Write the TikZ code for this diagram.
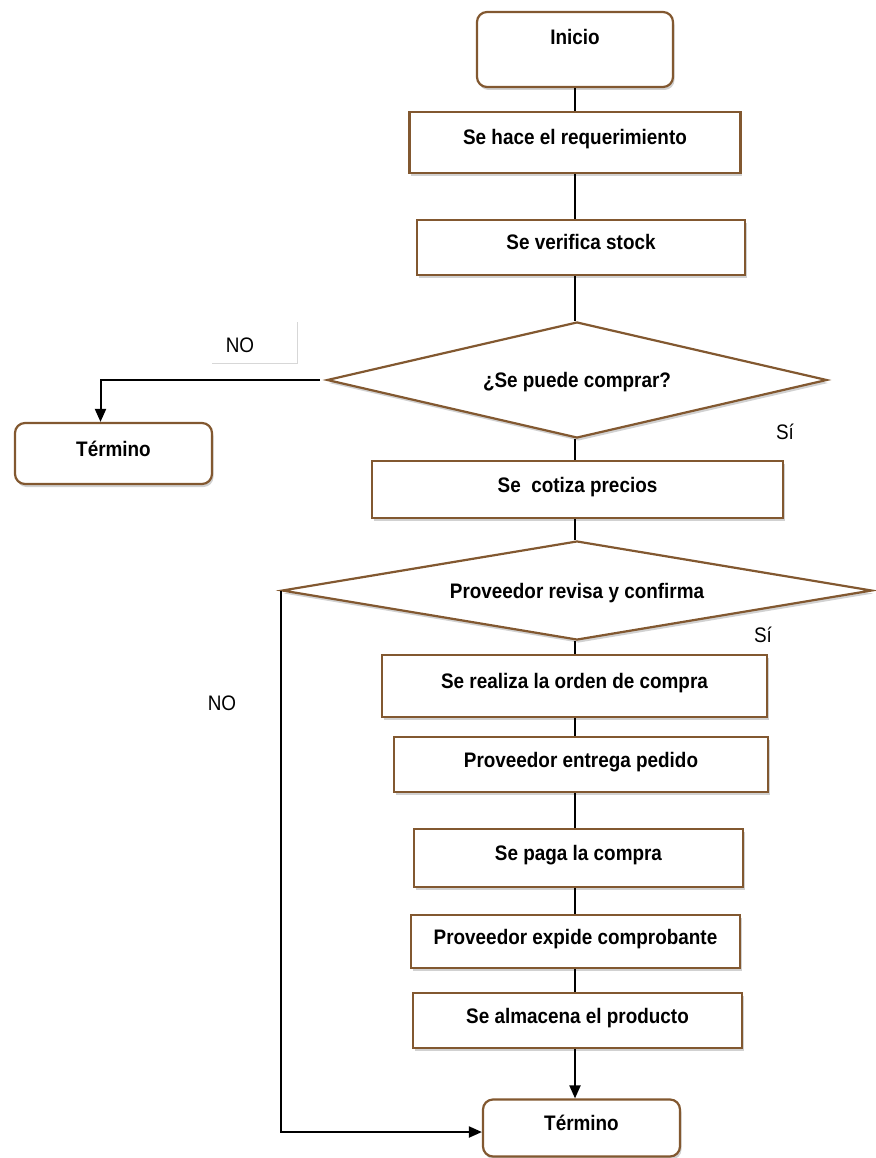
\documentclass[tikz,border=0pt]{standalone}
\usepackage{fontspec}
\setmainfont{Liberation Sans}[FakeStretch=0.9]
\usetikzlibrary{shapes.geometric,arrows.meta,shadows}
\definecolor{boxedge}{RGB}{130,88,48}
\definecolor{faint}{RGB}{215,215,215}

\begin{document}
\begin{tikzpicture}[x=1pt,y=-1pt,
  base/.style={draw=boxedge, line width=2.2pt, fill=white, inner sep=0pt,
     drop shadow={shadow xshift=1.5pt, shadow yshift=-3pt, opacity=0.3, fill=black!60},
     font=\fontsize{21}{25}\selectfont\bfseries, text height=15pt, text depth=10pt},
  procbox/.style={base, rectangle},
  endbox/.style={base, rectangle, rounded corners=10pt},
  decision/.style={base, diamond, text height=15pt, text depth=0pt},
  flow/.style={line width=2pt, draw=black},
  arr/.style={flow, -{Triangle[length=13pt,width=11pt]}},
  answer/.style={font=\fontsize{21}{25}\selectfont, inner sep=0pt},
]
\useasboundingbox (0,0) rectangle (875,1158);

% main column
\node[endbox, minimum width=196pt, minimum height=75pt, text depth=25pt] (inicio) at (575,49.5) {Inicio};
\node[procbox, minimum width=331pt, minimum height=61pt] (req) at (575,142.5) {Se hace el requerimiento};
\node[procbox, minimum width=328pt, minimum height=55pt] (verifica) at (581,247.5) {Se verifica stock};
\node[decision, aspect=4.3, minimum width=500pt, minimum height=116pt] (d1) at (577,380) {¿Se puede comprar?};
\node[endbox, minimum width=197pt, minimum height=61pt] (termA) at (113.5,453.5) {Término};
\node[procbox, minimum width=411pt, minimum height=57pt] (cotiza) at (577.5,489.5) {Se\ \ cotiza precios};
\node[decision, aspect=6, minimum width=590pt, minimum height=99pt] (d2) at (577,590.5) {Proveedor revisa y confirma};
\node[procbox, minimum width=385pt, minimum height=62pt] (orden) at (574.5,686) {Se realiza la orden de compra};
\node[procbox, minimum width=374pt, minimum height=55pt] (entrega) at (581,764.5) {Proveedor entrega pedido};
\node[procbox, minimum width=329pt, minimum height=58pt] (paga) at (578.5,858) {Se paga la compra};
\node[procbox, minimum width=329pt, minimum height=53pt] (expide) at (575.5,941.5) {Proveedor expide comprobante};
\node[procbox, minimum width=329pt, minimum height=55pt] (almacena) at (577.5,1020.5) {Se almacena el producto};
\node[endbox, minimum width=197pt, minimum height=57pt] (termB) at (581.5,1128) {Término};

% branch labels
\node[answer] (noA) at (240,345) {NO};
\draw[faint, line width=1pt] ([shift={(-28,18)}]noA.center) -- ([shift={(57,18)}]noA.center) -- ([shift={(57,-23)}]noA.center);
\node[answer] (siA) at (785,432) {Sí};
\node[answer] (siB) at (763,635) {Sí};
\node[answer] (noB) at (222,703) {NO};

% connectors
\coordinate (spine) at (575,0);
\draw[flow] (spine |- inicio.south) -- (spine |- req.north);
\draw[flow] (spine |- req.south) -- (spine |- verifica.north);
\draw[flow] (spine |- verifica.south) -- (spine |- d1.north);
\draw[flow] (spine |- d1.south) -- (spine |- cotiza.north);
\draw[flow] (spine |- cotiza.south) -- (spine |- d2.north);
\draw[flow] (spine |- d2.south) -- (spine |- orden.north);
\draw[flow] (spine |- orden.south) -- (spine |- entrega.north);
\draw[flow] (spine |- entrega.south) -- (spine |- paga.north);
\draw[flow] (spine |- paga.south) -- (spine |- expide.north);
\draw[flow] (spine |- expide.south) -- (spine |- almacena.north);
\draw[arr] (spine |- almacena.south) -- (spine |- termB.north);

\draw[arr] ([xshift=-6pt]d1.west) -| ([xshift=-13pt]termA.north);
\draw[arr] (d2.west) |- ([yshift=-4pt]termB.west);
\end{tikzpicture}
\end{document}
